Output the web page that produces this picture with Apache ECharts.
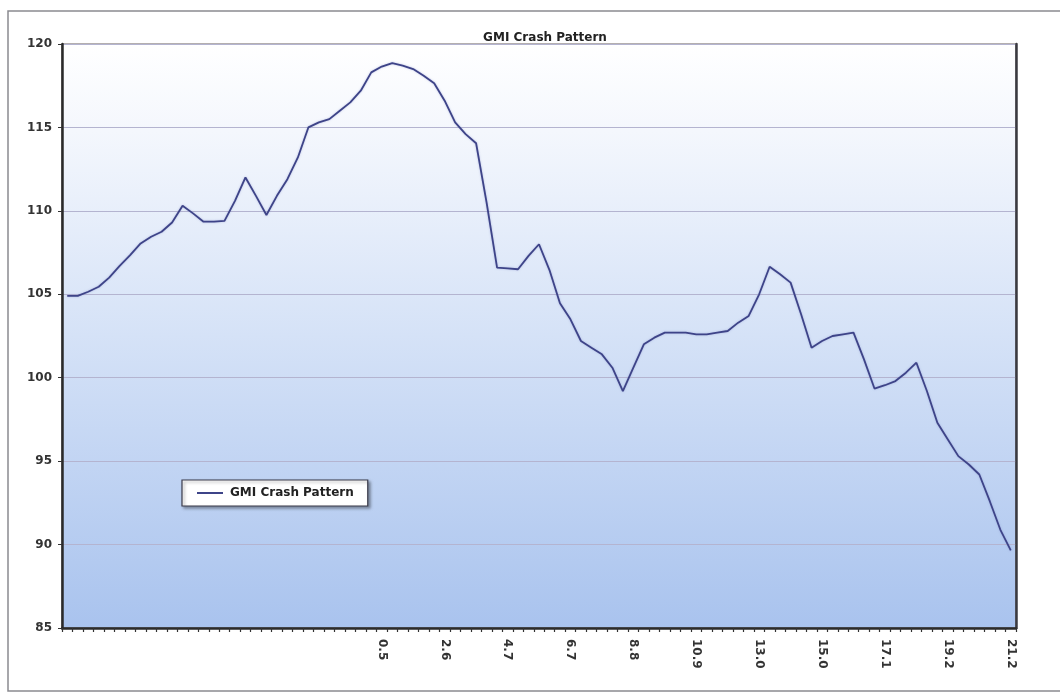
<!DOCTYPE html>
<html>
<head>
<meta charset="utf-8">
<script src="https://cdn.jsdelivr.net/npm/echarts@6/dist/echarts.min.js"></script>
<style>
html,body{margin:0;padding:0;background:#fff;}
#chart{width:1060px;height:695px;}
</style>
</head>
<body>
<div id="chart"></div>
<script>
const chartTitle = 'GMI Crash Pattern';
const seriesName = 'GMI Crash Pattern';
const categories = [
  '', '', '', '', '', '',
  '', '', '', '', '', '',
  '', '', '', '', '', '',
  '', '', '', '', '', '',
  '', '', '', '', '', '',
  '0.5', '', '', '', '', '',
  '2.6', '', '', '', '', '',
  '4.7', '', '', '', '', '',
  '6.7', '', '', '', '', '',
  '8.8', '', '', '', '', '',
  '10.9', '', '', '', '', '',
  '13.0', '', '', '', '', '',
  '15.0', '', '', '', '', '',
  '17.1', '', '', '', '', '',
  '19.2', '', '', '', '', '',
  '21.2'
];
const values = [
  104.9, 104.9, 105.15, 105.45, 106.0, 106.7, 107.35, 108.05, 108.45, 108.75,
  109.3, 110.3, 109.85, 109.35, 109.35, 109.4, 110.6, 112.0, 110.9, 109.75,
  110.9, 111.9, 113.2, 115.0, 115.3, 115.5, 116.0, 116.5, 117.2, 118.3,
  118.65, 118.85, 118.7, 118.5, 118.1, 117.65, 116.6, 115.3, 114.6, 114.05,
  110.5, 106.6, 106.55, 106.5, 107.3, 108.0, 106.45, 104.46, 103.5, 102.2,
  101.8, 101.4, 100.6, 99.2, 100.6, 102.0, 102.4, 102.7, 102.7, 102.7,
  102.6, 102.6, 102.7, 102.8, 103.3, 103.7, 105.0, 106.65, 106.2, 105.7,
  103.8, 101.8, 102.2, 102.5, 102.6, 102.7, 101.1, 99.35, 99.55, 99.8,
  100.3, 100.9, 99.2, 97.3, 96.3, 95.3, 94.8, 94.2, 92.6, 90.9,
  89.65
];
const yMin = 85, yMax = 120, yStep = 5;

const chart = echarts.init(document.getElementById('chart'), null, {renderer: 'canvas'});
const font = '"DejaVu Sans", "Liberation Sans", Arial, sans-serif';
chart.setOption({
  backgroundColor: '#ffffff',
  animation: false,
  title: {
    text: chartTitle,
    left: 540, top: 27, textAlign: 'center',
    textStyle: {fontFamily: font, fontSize: 12, fontWeight: 'bold', color: '#222'}
  },
  graphic: [{
    type: 'rect', silent: true, z: -10,
    shape: {x: 8, y: 11, width: 1070, height: 680},
    style: {fill: 'none', stroke: '#8a8a90', lineWidth: 1.5}
  }],
  legend: {
    left: 182, top: 480,
    data: [{name: seriesName, icon: 'rect'}],
    backgroundColor: '#ffffff',
    borderColor: '#3a3a4a', borderWidth: 1.2,
    padding: [7, 14, 7, 15],
    itemWidth: 26, itemHeight: 2, itemGap: 6,
    shadowColor: 'rgba(0,0,0,0.35)', shadowBlur: 3, shadowOffsetX: 2, shadowOffsetY: 2,
    textStyle: {fontFamily: font, fontSize: 12, fontWeight: 'bold', color: '#222', padding: [0, 0, 0, 2]}
  },
  grid: {
    left: 62, right: 44, top: 44, bottom: 67,
    show: true,
    borderColor: '#6a6060', borderWidth: 1.2,
    backgroundColor: new echarts.graphic.LinearGradient(0, 0, 0, 1, [
      {offset: 0, color: '#ffffff'},
      {offset: 0.15, color: '#f4f7fd'},
      {offset: 0.5, color: '#d5e2f7'},
      {offset: 1, color: '#a9c3ee'}
    ])
  },
  xAxis: {
    type: 'category',
    data: categories,
    boundaryGap: true,
    axisLine: {lineStyle: {color: '#2a2a2a', width: 2.5}},
    axisTick: {show: true, interval: 0, length: 4, lineStyle: {color: '#333', width: 1.2}},
    axisLabel: {
      interval: 0, rotate: -90, margin: 11,
      fontFamily: font, fontSize: 12, fontWeight: 'bold', color: '#333'
    },
    splitLine: {show: false}
  },
  yAxis: [{
    type: 'value',
    min: yMin, max: yMax, interval: yStep,
    axisLine: {show: true, lineStyle: {color: '#2a2a2a', width: 2.5}},
    axisTick: {show: true, length: 4, lineStyle: {color: '#333'}},
    axisLabel: {margin: 10, fontFamily: font, fontSize: 12, fontWeight: 'bold', color: '#333'},
    splitLine: {show: true, lineStyle: {color: '#b4b4d0', width: 1.2}}
  }, {
    type: 'value', position: 'right',
    min: yMin, max: yMax, interval: yStep,
    axisLine: {show: true, lineStyle: {color: '#3a3a40', width: 2.5}},
    axisTick: {show: false}, axisLabel: {show: false}, splitLine: {show: false}
  }],
  series: [{
    name: seriesName,
    type: 'line',
    yAxisIndex: 0,
    data: values,
    symbol: 'none',
    lineStyle: {color: '#3e4488', width: 1.8, shadowColor: 'rgba(120,130,200,0.5)', shadowBlur: 2},
    itemStyle: {color: '#3e4488'}
  }]
});
</script>
</body>
</html>
